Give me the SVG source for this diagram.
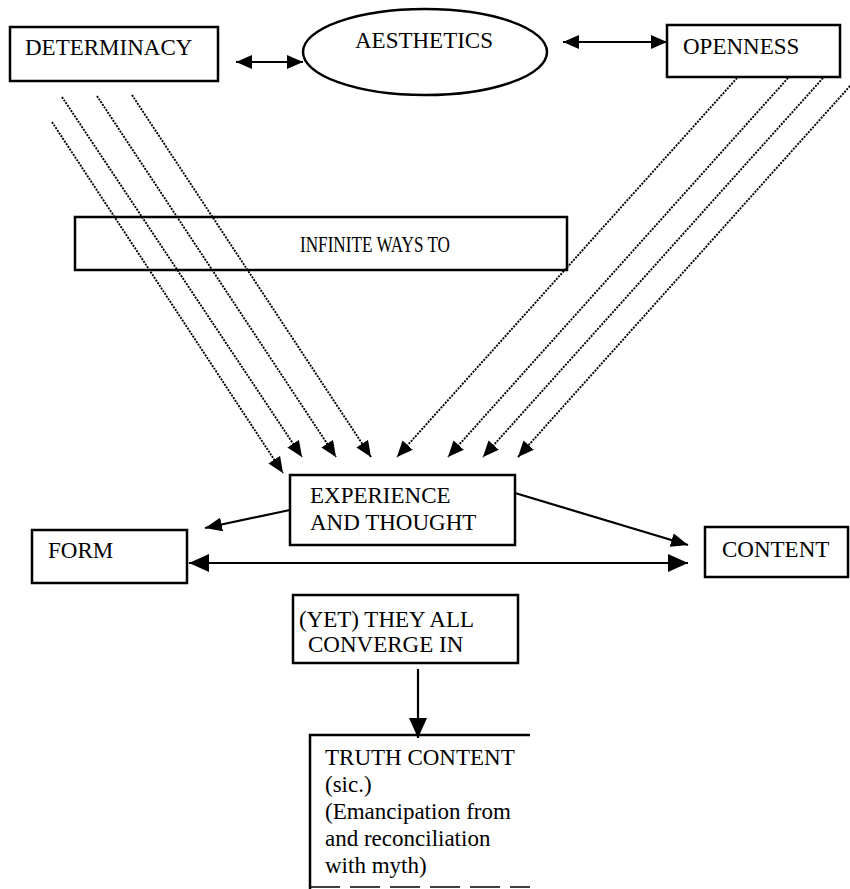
<svg xmlns="http://www.w3.org/2000/svg" width="850" height="889" viewBox="0 0 850 889">
<style>
.box{fill:none;stroke:#000;stroke-width:2.5}
.t{font-family:"Liberation Serif","Times New Roman",serif;font-size:23px;fill:#000}
.dot{fill:none;stroke:#000;stroke-width:1.9;stroke-dasharray:2 1.2;marker-end:url(#ah)}
.solid{fill:none;stroke:#000;stroke-width:2.2}
</style>
<defs>
<marker id="ah" markerUnits="userSpaceOnUse" markerWidth="16" markerHeight="14" refX="16" refY="7" orient="auto-start-reverse"><path d="M0,0 L16,7 L0,14 z" fill="#000"/></marker>
<marker id="am" markerUnits="userSpaceOnUse" markerWidth="17" markerHeight="14" refX="17" refY="7" orient="auto-start-reverse"><path d="M0,0 L17,7 L0,14 z" fill="#000"/></marker>
<marker id="ab" markerUnits="userSpaceOnUse" markerWidth="20" markerHeight="18" refX="20" refY="9" orient="auto-start-reverse"><path d="M0,0 L20,9 L0,18 z" fill="#000"/></marker>
</defs>
<g id="determinacy"><rect class="box" x="10" y="27" width="208" height="54"/><text class="t" x="25" y="55">DETERMINACY</text></g>
<g id="aesthetics"><ellipse class="box" cx="425" cy="52" rx="122" ry="43"/><text class="t" x="424" y="48" text-anchor="middle">AESTHETICS</text></g>
<g id="openness"><rect class="box" x="667" y="25" width="173" height="52"/><text class="t" x="683" y="54">OPENNESS</text></g>
<g id="infinite"><rect class="box" x="75" y="217" width="492" height="53"/><text class="t" x="300" y="252" textLength="150" lengthAdjust="spacingAndGlyphs">INFINITE WAYS TO</text></g>
<g id="experience"><rect class="box" x="290" y="475" width="225" height="70"/><text class="t" x="310" y="503" font-size="22">EXPERIENCE</text><text class="t" x="310" y="530" font-size="22">AND THOUGHT</text></g>
<g id="form"><rect class="box" x="32" y="530" width="155" height="53"/><text class="t" x="48" y="558" font-size="22">FORM</text></g>
<g id="content"><rect class="box" x="705" y="527" width="143" height="50"/><text class="t" x="722" y="557" font-size="22">CONTENT</text></g>
<g id="converge"><rect class="box" x="293" y="595" width="225" height="68"/><text class="t" x="299" y="627" font-size="22">(YET) THEY ALL</text><text class="t" x="308" y="652" font-size="22">CONVERGE IN</text></g>
<g id="truth"><path class="box" d="M310,889 L310,735 L530,735"/><line x1="310" y1="887" x2="530" y2="887" stroke="#000" stroke-width="1.5" stroke-dasharray="30 10"/><text class="t" x="325" y="765">TRUTH CONTENT</text><text class="t" x="325" y="792">(sic.)</text><text class="t" x="325" y="819">(Emancipation from</text><text class="t" x="325" y="846">and reconciliation</text><text class="t" x="325" y="873">with myth)</text></g>
<g id="connectors">
<line class="solid" x1="236" y1="62" x2="303" y2="62" marker-start="url(#ah)" marker-end="url(#ah)"/>
<line class="solid" x1="563" y1="42" x2="667" y2="42" marker-start="url(#ah)" marker-end="url(#ah)"/>
<line class="dot" x1="52" y1="122" x2="283" y2="473"/>
<line class="dot" x1="62" y1="97" x2="302" y2="457"/>
<line class="dot" x1="97" y1="96" x2="336" y2="457"/>
<line class="dot" x1="132" y1="95" x2="371" y2="457"/>
<line class="dot" x1="737" y1="78" x2="397" y2="457"/>
<line class="dot" x1="788" y1="78" x2="448" y2="457"/>
<line class="dot" x1="823" y1="78" x2="483" y2="457"/>
<line class="dot" x1="850" y1="86" x2="518" y2="457"/>
<line class="solid" x1="290" y1="510" x2="205" y2="528" stroke-width="2.5" marker-end="url(#am)"/>
<line class="solid" x1="515" y1="493" x2="688" y2="545" stroke-width="2.5" marker-end="url(#am)"/>
<line class="solid" x1="189" y1="563" x2="688" y2="563" stroke-width="4.5" marker-start="url(#ab)" marker-end="url(#ab)"/>
<line class="solid" x1="418" y1="669" x2="418" y2="738" stroke-width="8" marker-end="url(#ab)"/>
</g>
</svg>
